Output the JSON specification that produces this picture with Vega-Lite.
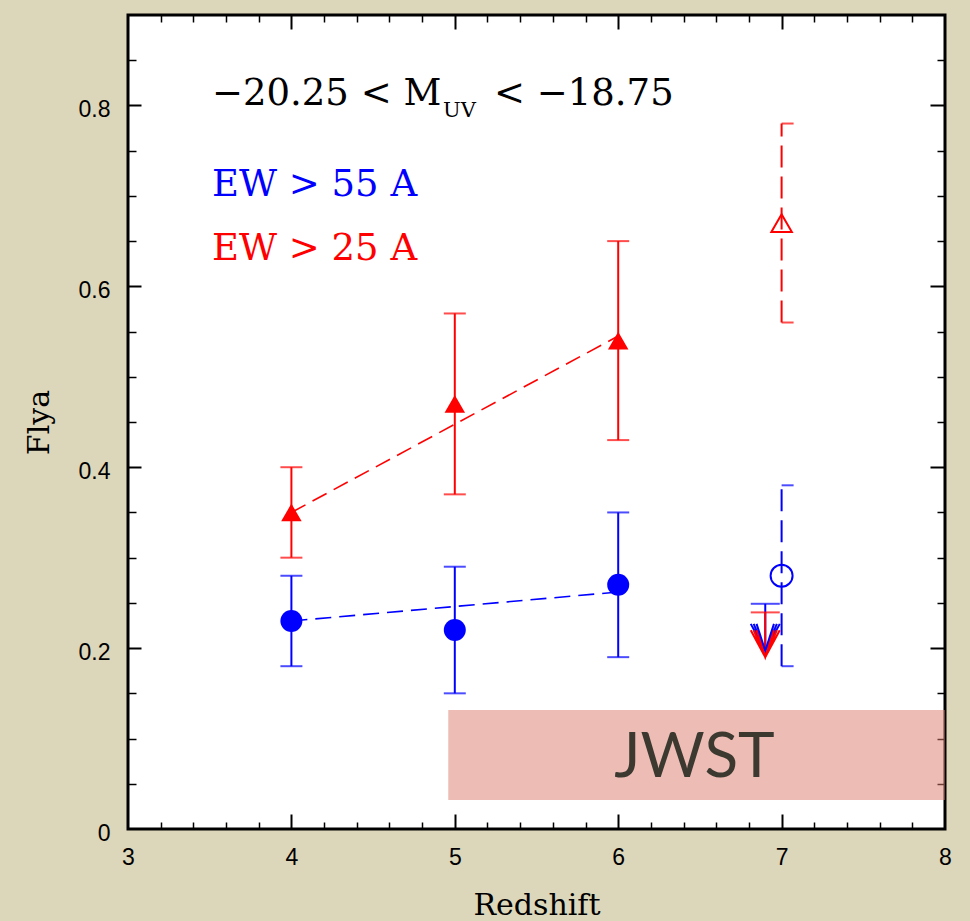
{
  "$schema": "https://vega.github.io/schema/vega-lite/v6.json",
  "width": 817,
  "height": 814,
  "autosize": {"type": "none"},
  "padding": {"left": 128, "top": 15, "right": 25, "bottom": 92},
  "background": "#dcd6ba",
  "config": {
    "view": {"fill": "white", "stroke": "black", "strokeWidth": 3},
    "axis": {"domain": false, "grid": false, "labelFont": "Liberation Sans", "labelFontSize": 23, "labelColor": "black", "tickColor": "black", "titleFont": "DejaVu Serif", "titleFontSize": 30, "titleFontWeight": "normal", "titleColor": "black", "labelFlush": false, "labelOverlap": false}
  },
  "datasets": {
    "meas": [
      {"z": 4, "f": 0.23, "lo": 0.18, "hi": 0.28, "s": "EW>55", "kind": "filled"},
      {"z": 5, "f": 0.22, "lo": 0.15, "hi": 0.29, "s": "EW>55", "kind": "filled"},
      {"z": 6, "f": 0.27, "lo": 0.19, "hi": 0.35, "s": "EW>55", "kind": "filled"},
      {"z": 4, "f": 0.35, "lo": 0.30, "hi": 0.40, "s": "EW>25", "kind": "filled"},
      {"z": 5, "f": 0.47, "lo": 0.37, "hi": 0.57, "s": "EW>25", "kind": "filled"},
      {"z": 6, "f": 0.54, "lo": 0.43, "hi": 0.65, "s": "EW>25", "kind": "filled"},
      {"z": 7, "f": 0.28, "lo": 0.18, "hi": 0.38, "s": "EW>55", "kind": "open"},
      {"z": 7, "f": 0.67, "lo": 0.56, "hi": 0.78, "s": "EW>25", "kind": "open"}
    ],
    "fits": [
      {"z": 4, "f": 0.23, "s": "EW>55"},
      {"z": 6, "f": 0.262, "s": "EW>55"},
      {"z": 4, "f": 0.35, "s": "EW>25"},
      {"z": 6, "f": 0.545, "s": "EW>25"}
    ],
    "limits": [
      {"z": 6.9, "top": 0.249, "tip": 0.197, "s": "EW>55"},
      {"z": 6.9, "top": 0.2395, "tip": 0.19, "s": "EW>25"}
    ]
  },
  "layer": [
    {
      "data": {"values": [{"z": 4.96, "z2": 8, "f": 0.032, "f2": 0.1316}]},
      "mark": {"type": "rect", "fill": "#dc7a6a", "opacity": 0.5},
      "encoding": {
        "x": {"field": "z", "type": "quantitative", "scale": {"domain": [3, 8], "nice": false, "zero": false},
              "axis": {"orient": "bottom", "values": [3, 4, 5, 6, 7, 8], "ticks": false, "labelFontSize": 23, "labelPadding": 17, "format": "d", "title": "Redshift", "titleX": 408.5, "titleY": 85, "titleBaseline": "alphabetic"}},
        "x2": {"field": "z2"},
        "y": {"field": "f", "type": "quantitative", "scale": {"domain": [0, 0.9], "nice": false, "zero": false},
              "axis": {"orient": "left", "values": [0, 0.2, 0.4, 0.6, 0.8], "ticks": false, "labelFontSize": 23, "labelPadding": 18, "labelOffset": 4, "format": ".1~f", "title": "Flya", "titleAngle": 270, "titleX": -80, "titleY": 407, "titleBaseline": "alphabetic"}},
        "y2": {"field": "f2"}
      }
    },
    {
      "data": {"values": [{"z": 6.467, "f": 0.0575, "label": "JWST"}]},
      "mark": {"type": "text", "font": "Lato", "fontSize": 62, "color": "#3b3930", "align": "center", "baseline": "alphabetic"},
      "encoding": {
        "x": {"field": "z", "type": "quantitative", "scale": {"domain": [3, 8], "nice": false, "zero": false},
              "axis": {"orient": "bottom", "values": [4, 5, 6, 7], "labels": false, "tickSize": -15, "tickWidth": 2, "title": null}},
        "y": {"field": "f", "type": "quantitative", "scale": {"domain": [0, 0.9], "nice": false, "zero": false},
              "axis": {"orient": "left", "values": [0.2, 0.4, 0.6, 0.8], "labels": false, "tickSize": -13, "tickWidth": 2, "title": null}},
        "text": {"field": "label"}
      }
    },
    {
      "data": {"name": "fits"},
      "mark": {"type": "line", "strokeDash": [16, 8], "strokeWidth": 1.6},
      "encoding": {
        "x": {"field": "z", "type": "quantitative", "scale": {"domain": [3, 8], "nice": false, "zero": false},
              "axis": {"orient": "bottom", "values": [3.2, 3.4, 3.6, 3.8, 4.2, 4.4, 4.6, 4.8, 5.2, 5.4, 5.6, 5.8, 6.2, 6.4, 6.6, 6.8, 7.2, 7.4, 7.6, 7.8], "labels": false, "tickSize": -7, "tickWidth": 1.5, "title": null}},
        "y": {"field": "f", "type": "quantitative", "scale": {"domain": [0, 0.9], "nice": false, "zero": false},
              "axis": {"orient": "left", "values": [0.05, 0.1, 0.15, 0.25, 0.3, 0.35, 0.45, 0.5, 0.55, 0.65, 0.7, 0.75, 0.85], "labels": false, "tickSize": -8, "tickWidth": 1.5, "title": null}},
        "color": {"field": "s", "type": "nominal", "scale": {"domain": ["EW>55", "EW>25"], "range": ["#0000ff", "#ff0000"]}, "legend": null},
        "detail": {"field": "s"}
      }
    },
    {
      "data": {"name": "meas"},
      "transform": [{"filter": "datum.kind === 'filled'"}],
      "mark": {"type": "rule", "strokeWidth": 2},
      "encoding": {
        "x": {"field": "z", "type": "quantitative", "scale": {"domain": [3, 8], "nice": false, "zero": false},
              "axis": {"orient": "top", "values": [4, 5, 6, 7], "labels": false, "tickSize": -14, "tickWidth": 2, "title": null}},
        "y": {"field": "lo", "type": "quantitative", "scale": {"domain": [0, 0.9], "nice": false, "zero": false},
              "axis": {"orient": "right", "values": [0.2, 0.4, 0.6, 0.8], "labels": false, "tickSize": -15, "tickWidth": 2, "title": null}},
        "y2": {"field": "hi"},
        "color": {"field": "s", "type": "nominal", "legend": null}
      }
    },
    {
      "data": {"name": "meas"},
      "transform": [{"filter": "datum.kind === 'open'"}],
      "mark": {"type": "rule", "strokeWidth": 2, "strokeDash": [22, 9]},
      "encoding": {
        "x": {"field": "z", "type": "quantitative", "scale": {"domain": [3, 8], "nice": false, "zero": false},
              "axis": {"orient": "top", "values": [3.2, 3.4, 3.6, 3.8, 4.2, 4.4, 4.6, 4.8, 5.2, 5.4, 5.6, 5.8, 6.2, 6.4, 6.6, 6.8, 7.2, 7.4, 7.6, 7.8], "labels": false, "tickSize": -7, "tickWidth": 1.5, "title": null}},
        "y": {"field": "lo", "type": "quantitative", "scale": {"domain": [0, 0.9], "nice": false, "zero": false},
              "axis": {"orient": "right", "values": [0.05, 0.1, 0.15, 0.25, 0.3, 0.35, 0.45, 0.5, 0.55, 0.65, 0.7, 0.75, 0.85], "labels": false, "tickSize": -8, "tickWidth": 1.5, "title": null}},
        "y2": {"field": "hi"},
        "color": {"field": "s", "type": "nominal", "legend": null}
      }
    },
    {
      "data": {"name": "meas"},
      "transform": [{"filter": "datum.kind === 'filled'"}],
      "mark": {"type": "tick", "orient": "horizontal", "size": 22, "thickness": 2},
      "encoding": {
        "x": {"field": "z", "type": "quantitative", "scale": {"domain": [3, 8], "nice": false, "zero": false}, "axis": null},
        "y": {"field": "lo", "type": "quantitative", "scale": {"domain": [0, 0.9], "nice": false, "zero": false}, "axis": null},
        "color": {"field": "s", "type": "nominal", "legend": null}
      }
    },
    {
      "data": {"name": "meas"},
      "transform": [{"filter": "datum.kind === 'filled'"}],
      "mark": {"type": "tick", "orient": "horizontal", "size": 22, "thickness": 2},
      "encoding": {
        "x": {"field": "z", "type": "quantitative", "scale": {"domain": [3, 8], "nice": false, "zero": false}, "axis": null},
        "y": {"field": "hi", "type": "quantitative", "scale": {"domain": [0, 0.9], "nice": false, "zero": false}, "axis": null},
        "color": {"field": "s", "type": "nominal", "legend": null}
      }
    },
    {
      "data": {"name": "meas"},
      "transform": [{"filter": "datum.kind === 'open'"}],
      "mark": {"type": "tick", "orient": "horizontal", "size": 12, "thickness": 2, "xOffset": 6},
      "encoding": {
        "x": {"field": "z", "type": "quantitative", "scale": {"domain": [3, 8], "nice": false, "zero": false}, "axis": null},
        "y": {"field": "lo", "type": "quantitative", "scale": {"domain": [0, 0.9], "nice": false, "zero": false}, "axis": null},
        "color": {"field": "s", "type": "nominal", "legend": null}
      }
    },
    {
      "data": {"name": "meas"},
      "transform": [{"filter": "datum.kind === 'open'"}],
      "mark": {"type": "tick", "orient": "horizontal", "size": 12, "thickness": 2, "xOffset": 6},
      "encoding": {
        "x": {"field": "z", "type": "quantitative", "scale": {"domain": [3, 8], "nice": false, "zero": false}, "axis": null},
        "y": {"field": "hi", "type": "quantitative", "scale": {"domain": [0, 0.9], "nice": false, "zero": false}, "axis": null},
        "color": {"field": "s", "type": "nominal", "legend": null}
      }
    },
    {
      "data": {"name": "meas"},
      "transform": [{"filter": "datum.kind === 'filled'"}],
      "mark": {"type": "point", "filled": true, "opacity": 1},
      "encoding": {
        "x": {"field": "z", "type": "quantitative", "scale": {"domain": [3, 8], "nice": false, "zero": false}, "axis": null},
        "y": {"field": "f", "type": "quantitative", "scale": {"domain": [0, 0.9], "nice": false, "zero": false}, "axis": null},
        "color": {"field": "s", "type": "nominal", "legend": null},
        "shape": {"field": "s", "type": "nominal", "scale": {"domain": ["EW>55", "EW>25"], "range": ["circle", "triangle-up"]}, "legend": null},
        "size": {"field": "s", "type": "ordinal", "scale": {"domain": ["EW>55", "EW>25"], "range": [484, 420]}, "legend": null}
      }
    },
    {
      "data": {"name": "meas"},
      "transform": [{"filter": "datum.kind === 'open'"}],
      "mark": {"type": "point", "filled": false, "strokeWidth": 2, "opacity": 1},
      "encoding": {
        "x": {"field": "z", "type": "quantitative", "scale": {"domain": [3, 8], "nice": false, "zero": false}, "axis": null},
        "y": {"field": "f", "type": "quantitative", "scale": {"domain": [0, 0.9], "nice": false, "zero": false}, "axis": null},
        "color": {"field": "s", "type": "nominal", "legend": null},
        "shape": {"field": "s", "type": "nominal", "legend": null},
        "size": {"field": "s", "type": "ordinal", "legend": null}
      }
    },
    {
      "data": {"name": "limits"},
      "mark": {"type": "rule", "strokeWidth": 2},
      "encoding": {
        "x": {"field": "z", "type": "quantitative", "scale": {"domain": [3, 8], "nice": false, "zero": false}, "axis": null},
        "y": {"field": "tip", "type": "quantitative", "scale": {"domain": [0, 0.9], "nice": false, "zero": false}, "axis": null},
        "y2": {"field": "top"},
        "color": {"field": "s", "type": "nominal", "legend": null}
      }
    },
    {
      "data": {"name": "limits"},
      "mark": {"type": "tick", "orient": "horizontal", "size": 29, "thickness": 2},
      "encoding": {
        "x": {"field": "z", "type": "quantitative", "scale": {"domain": [3, 8], "nice": false, "zero": false}, "axis": null},
        "y": {"field": "top", "type": "quantitative", "scale": {"domain": [0, 0.9], "nice": false, "zero": false}, "axis": null},
        "color": {"field": "s", "type": "nominal", "legend": null}
      }
    },
    {
      "data": {"name": "limits"},
      "mark": {"type": "point", "filled": false, "strokeWidth": 2, "opacity": 1, "size": 841, "shape": "M-1,-1.86L0,0L1,-1.86M-0.8,-1.86L0,0L0.8,-1.86M-0.6,-1.86L0,0L0.6,-1.86"},
      "encoding": {
        "x": {"field": "z", "type": "quantitative", "scale": {"domain": [3, 8], "nice": false, "zero": false}, "axis": null},
        "y": {"field": "tip", "type": "quantitative", "scale": {"domain": [0, 0.9], "nice": false, "zero": false}, "axis": null},
        "color": {"field": "s", "type": "nominal", "legend": null}
      }
    },
    {
      "data": {"values": [{"z": 3.514, "f": 0.8, "label": "−20.25 < M"}, {"z": 5.24, "f": 0.8, "label": "< −18.75"}]},
      "mark": {"type": "text", "font": "DejaVu Serif", "fontSize": 37, "color": "black", "align": "left", "baseline": "alphabetic"},
      "encoding": {
        "x": {"field": "z", "type": "quantitative", "scale": {"domain": [3, 8], "nice": false, "zero": false}, "axis": null},
        "y": {"field": "f", "type": "quantitative", "scale": {"domain": [0, 0.9], "nice": false, "zero": false}, "axis": null},
        "text": {"field": "label"}
      }
    },
    {
      "data": {"values": [{"z": 4.928, "f": 0.787, "label": "UV"}]},
      "mark": {"type": "text", "font": "DejaVu Serif", "fontSize": 21, "color": "black", "align": "left", "baseline": "alphabetic"},
      "encoding": {
        "x": {"field": "z", "type": "quantitative", "scale": {"domain": [3, 8], "nice": false, "zero": false}, "axis": null},
        "y": {"field": "f", "type": "quantitative", "scale": {"domain": [0, 0.9], "nice": false, "zero": false}, "axis": null},
        "text": {"field": "label"}
      }
    },
    {
      "data": {"values": [{"z": 3.514, "f": 0.70, "label": "EW > 55 A", "s": "EW>55"}, {"z": 3.514, "f": 0.629, "label": "EW > 25 A", "s": "EW>25"}]},
      "mark": {"type": "text", "font": "DejaVu Serif", "fontSize": 37, "align": "left", "baseline": "alphabetic"},
      "encoding": {
        "x": {"field": "z", "type": "quantitative", "scale": {"domain": [3, 8], "nice": false, "zero": false}, "axis": null},
        "y": {"field": "f", "type": "quantitative", "scale": {"domain": [0, 0.9], "nice": false, "zero": false}, "axis": null},
        "text": {"field": "label"},
        "color": {"field": "s", "type": "nominal", "legend": null}
      }
    }
  ],
  "resolve": {"axis": {"x": "independent", "y": "independent"}}
}
